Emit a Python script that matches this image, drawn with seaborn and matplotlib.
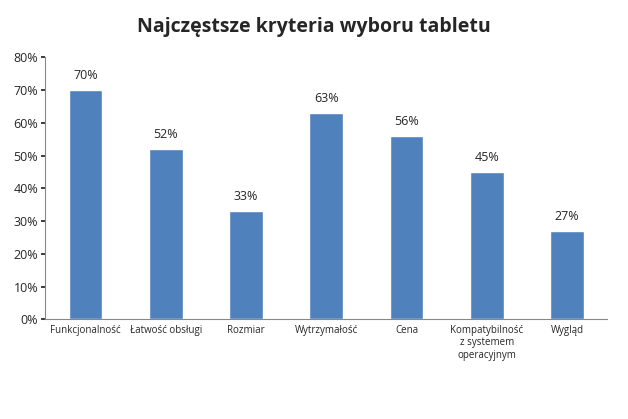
import matplotlib
matplotlib.use("Agg")
import matplotlib.pyplot as plt
import seaborn as sns
import pandas as pd

categories = ["Funkcjonalność", "Łatwość obsługi", "Rozmiar", "Wytrzymałość", "Cena",
              "Kompatybilność\nz systemem\noperacyjnym", "Wygląd"]
values = [70, 52, 33, 63, 56, 45, 27]

sns.set_theme(style="white")
plt.rcParams['font.family'] = ['Open Sans', 'DejaVu Sans']

df = pd.DataFrame({"kryterium": categories, "procent": values})

fig = plt.figure(figsize=(6.28, 4.19), dpi=100)
ax = fig.add_axes([0.072, 0.238, 0.895, 0.625])
sns.barplot(data=df, x="kryterium", y="procent", color="#4F81BD", width=0.42, saturation=1, ax=ax)

for i, v in enumerate(values):
    ax.text(i, v + 2.5, f"{v}%", ha="center", va="bottom", fontsize=9)

ax.set_ylim(0, 80)
ax.set_yticks(range(0, 81, 10))
ax.set_yticklabels([f"{t}%" for t in range(0, 81, 10)], fontsize=9)
ax.tick_params(axis="x", labelsize=7, length=0, pad=4)
ax.tick_params(axis="y", left=True, length=3, pad=2)
ax.set_xlabel("")
ax.set_ylabel("")
for s in ["top", "right"]:
    ax.spines[s].set_visible(False)
for s in ["left", "bottom"]:
    ax.spines[s].set_color("#888888")
    ax.spines[s].set_linewidth(0.8)

fig.suptitle("Najczęstsze kryteria wyboru tabletu", fontsize=14, fontweight="bold", y=0.96)
fig.savefig("out.png", dpi=100)
